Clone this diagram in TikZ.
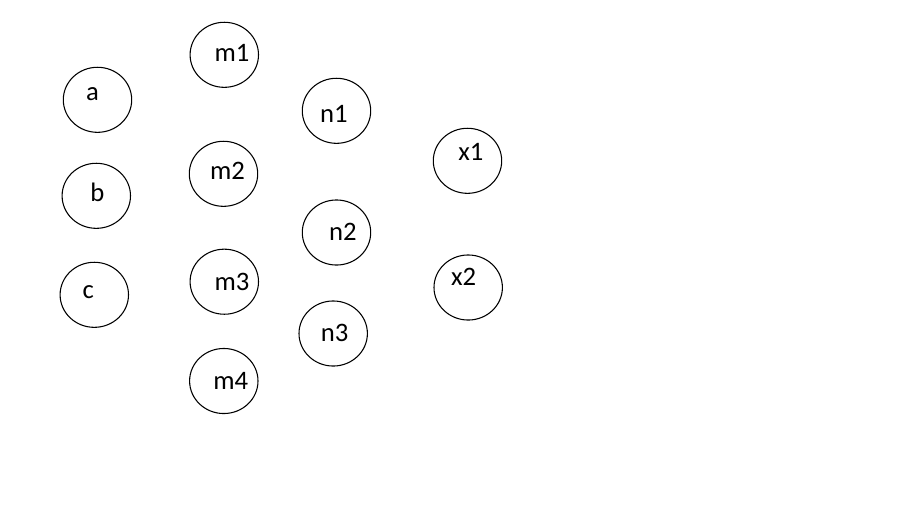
\documentclass[tikz,border=0pt]{standalone}
\usepackage{fontspec}
\setmainfont{Carlito}
\usetikzlibrary{shapes.geometric}
\begin{document}
\begin{tikzpicture}[x=0.75pt,y=-0.75pt,
  circ/.style={draw=black,line width=0.8pt,ellipse,minimum width=51.3pt,minimum height=48.8pt,inner sep=0pt},
  lab/.style={anchor=base,inner sep=0pt,font=\fontsize{20}{24}\selectfont}]
\useasboundingbox[fill=white] (0,0) rectangle (922,519);
\node[circ] (a) at (97.5,99.8) {};
\node[lab] (ta) at (92.5,100.7) {a};
\node[circ] (b) at (96.3,195.8) {};
\node[lab] (tb) at (97.5,201) {b};
\node[circ] (c) at (94.3,294.8) {};
\node[lab] (tc) at (88.3,298.3) {c};
\node[circ] (m1) at (224.3,54.8) {};
\node[lab] (tm1) at (232,61.7) {m1};
\node[circ] (m2) at (223.5,173.8) {};
\node[lab] (tm2) at (227.5,179.3) {m2};
\node[circ] (m3) at (224.3,281.7) {};
\node[lab] (tm3) at (232,290.7) {m3};
\node[circ] (m4) at (223.8,381) {};
\node[lab] (tm4) at (230.7,389) {m4};
\node[circ] (n1) at (336.5,110.8) {};
\node[lab] (tn1) at (334,122.7) {n1};
\node[circ] (n2) at (336.5,232.5) {};
\node[lab] (tn2) at (342.8,240) {n2};
\node[circ] (n3) at (333.2,333.5) {};
\node[lab] (tn3) at (334.7,341) {n3};
\node[circ] (x1) at (467.5,160.8) {};
\node[lab] (tx1) at (470.8,160) {x1};
\node[circ] (x2) at (468.2,287.5) {};
\node[lab] (tx2) at (463.7,285) {x2};
\end{tikzpicture}
\end{document}
